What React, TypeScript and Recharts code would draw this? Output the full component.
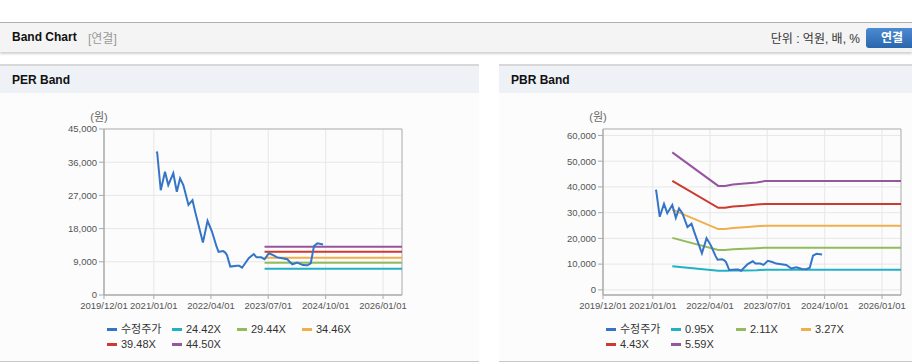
import React from "react";
import { CartesianGrid, Legend, Line, LineChart, ReferenceArea, XAxis, YAxis } from "recharts";

const xTickLabels = ["2019/12/01", "2021/01/01", "2022/04/01", "2023/07/01", "2024/10/01", "2026/01/01"];
const xStart = "2019/12/01";
const xEnd = "2026/06/01";

const priceName = "수정주가";
const priceColor = "#3575c7";
const priceDates = [
  "2021/01/23", "2021/01/28", "2021/02/25", "2021/03/31", "2021/04/26", "2021/06/05", "2021/07/03",
  "2021/07/29", "2021/08/24", "2021/10/04", "2021/11/05", "2021/11/26", "2022/01/27", "2022/03/05",
  "2022/04/09", "2022/05/16", "2022/06/01", "2022/07/08", "2022/07/24", "2022/08/07", "2022/09/02",
  "2022/10/26", "2022/11/13", "2022/12/05", "2023/01/27", "2023/03/08", "2023/03/30", "2023/05/06",
  "2023/06/02", "2023/07/06", "2023/08/10", "2023/09/11", "2023/10/21", "2023/11/30", "2024/01/09",
  "2024/02/18", "2024/04/03", "2024/05/08", "2024/06/04", "2024/06/30", "2024/07/27", "2024/09/10",
];
const priceValues = [
  38900, 38500, 28400, 33400, 29800, 33000, 28000,
  31600, 29800, 24400, 25700, 22600, 14200, 20100,
  17200, 13100, 11700, 11900, 11500, 10800, 7700,
  7900, 7900, 7400, 10000, 11100, 10200, 10200,
  9700, 11300, 10800, 10200, 9950, 9700, 8300,
  8800, 8100, 8050, 8600, 13300, 14000, 13700,
];

const bandColors = ["#20b1c5", "#93bb5b", "#f0ae4c", "#cd3a2f", "#95559f"];

const perBandNames = ["24.42X", "29.44X", "34.46X", "39.48X", "44.50X"];
const perBandDates = ["2023/06/02", "2026/06/01"];
const perBand1 = [7100, 7100];
const perBand2 = [8720, 8720];
const perBand3 = [10120, 10120];
const perBand4 = [11700, 11700];
const perBand5 = [13050, 13050];
const perYTicks = [0, 9000, 18000, 27000, 36000, 45000];
const perYDomain = [0, 45000];

const pbrBandNames = ["0.95X", "2.11X", "3.27X", "4.43X", "5.59X"];
const pbrBandDates = ["2021/06/05", "2022/06/06", "2022/07/30", "2022/10/01", "2023/01/01", "2023/04/09", "2023/06/15", "2026/06/01"];
const pbrBand1 = [9200, 7400, 7400, 7500, 7550, 7650, 7800, 7800];
const pbrBand2 = [20200, 15500, 15500, 15800, 16000, 16200, 16400, 16400];
const pbrBand3 = [31200, 23600, 23600, 24000, 24300, 24700, 24900, 24900];
const pbrBand4 = [42300, 31900, 31900, 32400, 32700, 33150, 33400, 33400];
const pbrBand5 = [53400, 40400, 40400, 40900, 41300, 41750, 42250, 42250];
const pbrYTicks = [0, 10000, 20000, 30000, 40000, 50000, 60000];
const pbrYDomain = [-2000, 62500];

const ts = (s: string) => {
  const [y, m, d] = s.split("/").map(Number);
  return Date.UTC(y, m - 1, d);
};
const fmtDate = (t: number) => {
  const d = new Date(t);
  const p = (n: number) => String(n).padStart(2, "0");
  return `${d.getUTCFullYear()}/${p(d.getUTCMonth() + 1)}/${p(d.getUTCDate())}`;
};
const fmtNum = (v: number) => v.toLocaleString("en-US");

const axisColor = "#a9a9a9";
const tickStyle = { fill: "#555", fontSize: 9.5 };

type PanelProps = {
  title: string;
  left: number;
  yTicks: number[];
  yDomain: number[];
  bandNames: string[];
  bandDates: string[];
  bandValues: number[][];
};

function BandPanel({ title, left, yTicks, yDomain, bandNames, bandDates, bandValues }: PanelProps) {
  const priceData = priceDates.map((d, i) => ({ t: ts(d), v: priceValues[i] }));
  const bands = bandValues.map((vals) => bandDates.map((d, i) => ({ t: ts(d), v: vals[i] })));
  const items = [{ name: priceName, color: priceColor }, ...bandNames.map((n, i) => ({ name: n, color: bandColors[i] }))];

  const renderLegend = () => (
    <div style={{ height: 40, boxSizing: "border-box", paddingTop: 7, paddingLeft: 107, width: 479 }}>
      <div style={{ display: "flex", flexWrap: "wrap", width: 260 }}>
        {items.map((it) => (
          <div key={it.name} style={{ width: 65, height: 15, display: "flex", alignItems: "center" }}>
            <span style={{ width: 10, height: 3, background: it.color, marginRight: 4, display: "inline-block" }} />
            <span style={{ fontSize: 11, color: "#333", lineHeight: "15px" }}>{it.name}</span>
          </div>
        ))}
      </div>
    </div>
  );

  const renderYLabel = (props: any) => {
    const vb = props.viewBox || { x: 0, y: 129, width: 104 };
    return (
      <text x={vb.x + vb.width - 5} y={vb.y - 8} textAnchor="middle" fill="#666" fontSize={11}>
        (원)
      </text>
    );
  };

  return (
    <div style={{ position: "absolute", left, top: 64, width: 479, height: 298, borderTop: "2px solid #d8d8d8", borderBottom: "1px solid #c9c9c9", background: "#fcfcfc", boxSizing: "border-box" }}>
      <div style={{ height: 27, background: "#eef1f6", display: "flex", alignItems: "center", paddingLeft: 12, fontSize: 12, fontWeight: "bold", color: "#111" }}>
        {title}
      </div>
      <div style={{ position: "absolute", left: 0, top: 27 }}>
        <LineChart width={479} height={269} margin={{ top: 36, right: 77, bottom: 7, left: 0 }}>
          <CartesianGrid stroke="#e7e7e7" />
          <XAxis
            type="number"
            dataKey="t"
            domain={[ts(xStart), ts(xEnd)]}
            ticks={xTickLabels.map(ts)}
            tickFormatter={fmtDate}
            interval={0}
            allowDataOverflow
            height={20}
            tickSize={4}
            tickMargin={3}
            stroke={axisColor}
            tick={tickStyle}
          />
          <YAxis
            type="number"
            domain={yDomain}
            ticks={yTicks}
            tickFormatter={fmtNum}
            interval={0}
            allowDataOverflow
            width={104}
            tickSize={5}
            tickMargin={2}
            stroke={axisColor}
            tick={tickStyle}
            label={renderYLabel}
          />
          <ReferenceArea x1={ts(xStart)} x2={ts(xEnd)} y1={yDomain[0]} y2={yDomain[1]} fill="none" stroke="#b3b3b3" />
          {bands.map((data, i) => (
            <Line key={bandNames[i]} name={bandNames[i]} data={data} dataKey="v" type="linear" stroke={bandColors[i]} strokeWidth={2} dot={false} activeDot={false} isAnimationActive={false} />
          ))}
          <Line name={priceName} data={priceData} dataKey="v" type="linear" stroke={priceColor} strokeWidth={2} dot={false} activeDot={false} isAnimationActive={false} />
          <Legend content={renderLegend} height={40} wrapperStyle={{ left: 0, width: 479 }} />
        </LineChart>
      </div>
    </div>
  );
}

export default function App() {
  return (
    <div style={{ position: "absolute", left: 0, top: 0, width: 912, height: 364, overflow: "hidden", background: "#fff", fontFamily: "'Liberation Sans', Arial, 'Noto Sans CJK KR', sans-serif" }}>
      <div style={{ position: "absolute", left: 0, top: 22, width: 912, height: 30, background: "#f4f4f4", borderTop: "1px solid #b0b0b0", boxShadow: "0 2px 2px rgba(0,0,0,0.18)", boxSizing: "border-box" }}>
        <span style={{ position: "absolute", left: 12, top: 7, fontSize: 12, fontWeight: "bold", color: "#111" }}>Band Chart</span>
        <span style={{ position: "absolute", left: 88, top: 6, fontSize: 12, color: "#999" }}>[연결]</span>
        <span style={{ position: "absolute", right: 52, top: 6, fontSize: 12, color: "#333" }}>단위 : 억원, 배, %</span>
        <div style={{ position: "absolute", left: 866, top: 5, width: 52, height: 20, borderRadius: 3, background: "linear-gradient(#4b8bd1, #2a66ad)", color: "#fff", fontSize: 12, fontWeight: "bold", textAlign: "center", lineHeight: "20px" }}>
          연결
        </div>
      </div>
      <BandPanel
        title="PER Band"
        left={0}
        yTicks={perYTicks}
        yDomain={perYDomain}
        bandNames={perBandNames}
        bandDates={perBandDates}
        bandValues={[perBand1, perBand2, perBand3, perBand4, perBand5]}
      />
      <BandPanel
        title="PBR Band"
        left={499}
        yTicks={pbrYTicks}
        yDomain={pbrYDomain}
        bandNames={pbrBandNames}
        bandDates={pbrBandDates}
        bandValues={[pbrBand1, pbrBand2, pbrBand3, pbrBand4, pbrBand5]}
      />
    </div>
  );
}
